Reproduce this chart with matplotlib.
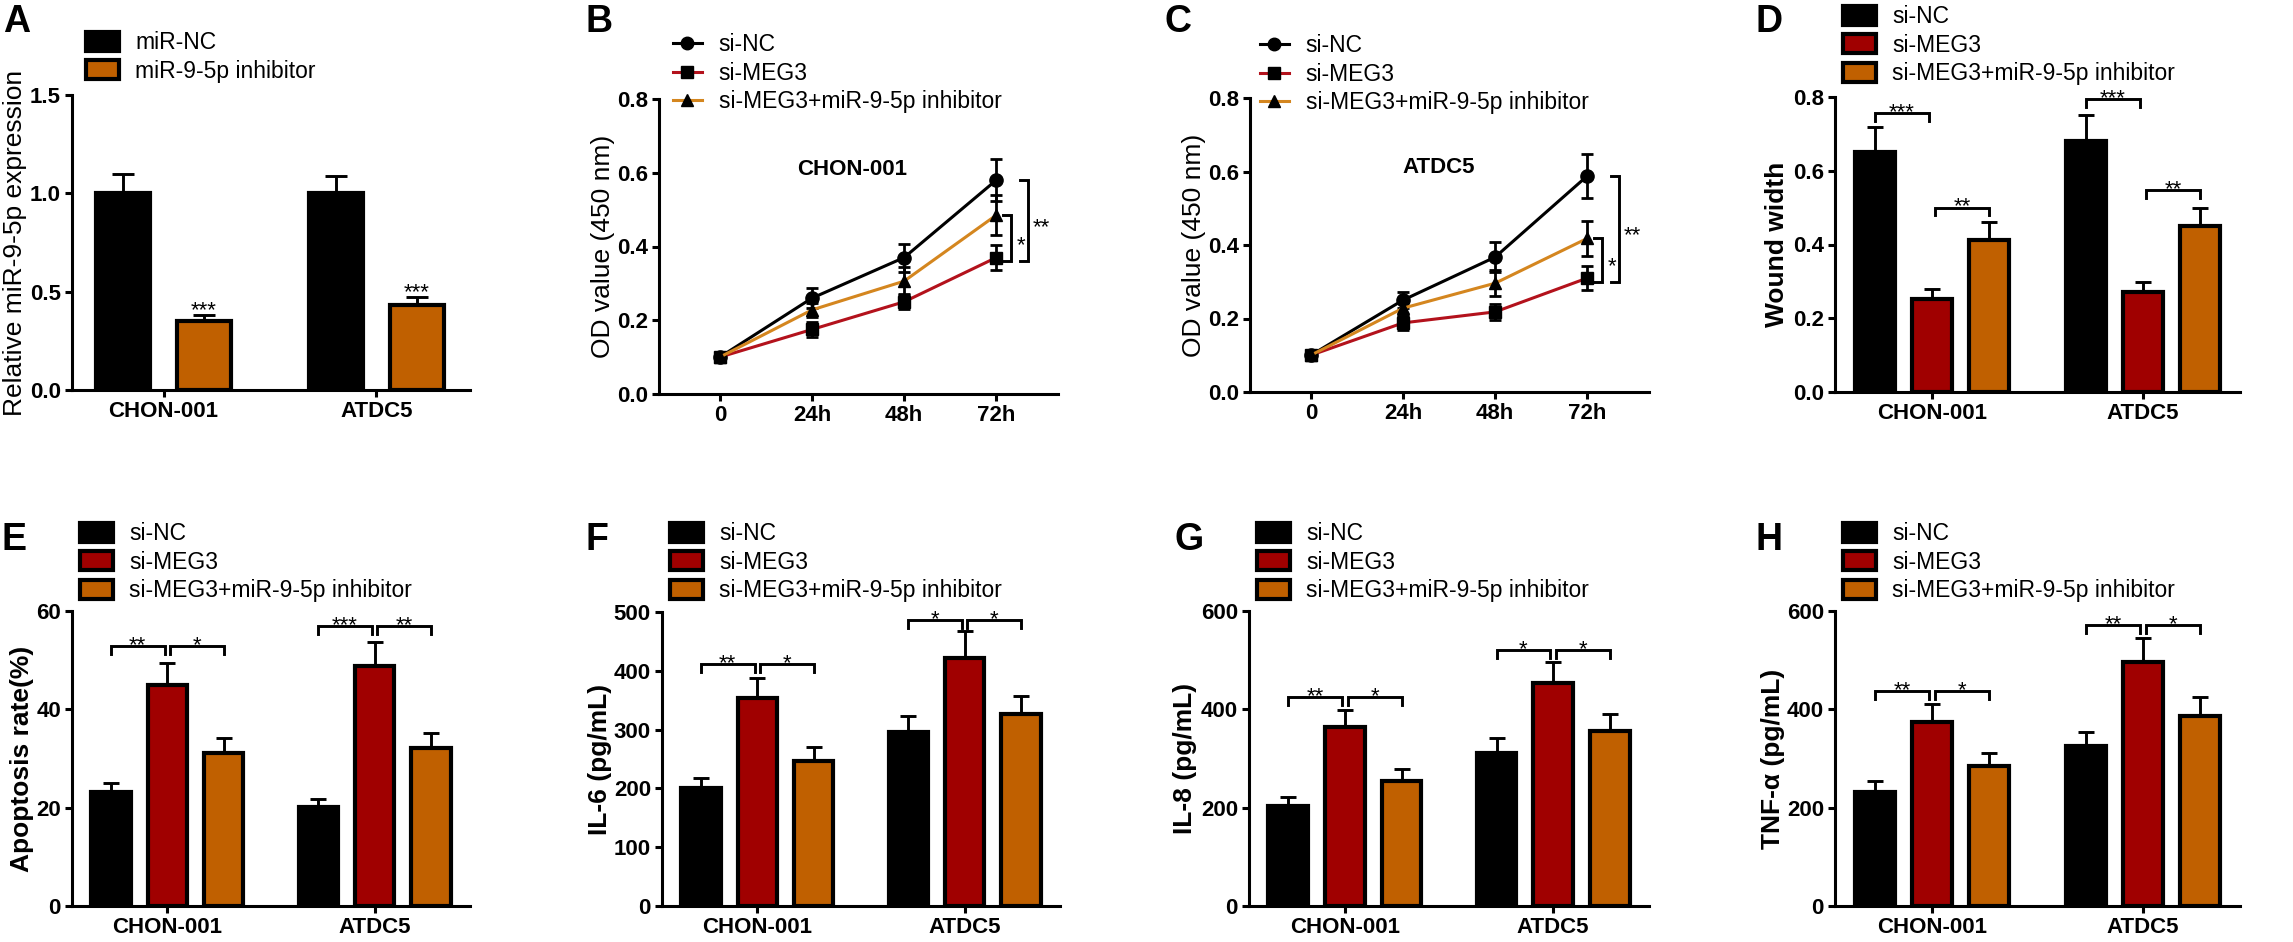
import numpy as np
import matplotlib
matplotlib.use("Agg")
import matplotlib.pyplot as plt
from matplotlib.patches import Patch
from matplotlib.lines import Line2D

W, H = 2293, 942
plt.rcParams['font.family'] = ['Liberation Sans', 'DejaVu Sans']

# ---------------- data ----------------
cells = ["CHON-001", "ATDC5"]
groups_a = ["miR-NC", "miR-9-5p inhibitor"]
groups3 = ["si-NC", "si-MEG3", "si-MEG3+miR-9-5p inhibitor"]
timepoints = ["0", "24h", "48h", "72h"]

# A: relative miR-9-5p expression
a_nc = [1.00, 1.00]
a_nc_err = [0.10, 0.09]
a_inh = [0.35, 0.43]
a_inh_err = [0.032, 0.045]
a_stars = ["***", "***"]

# B: CCK-8 CHON-001 (rows: si-NC, si-MEG3, si-MEG3+inhibitor)
b_mean = [[0.10, 0.26, 0.37, 0.58],
          [0.10, 0.175, 0.25, 0.37],
          [0.10, 0.228, 0.306, 0.485]]
b_err = [[0.005, 0.028, 0.038, 0.057],
         [0.005, 0.02, 0.02, 0.033],
         [0.005, 0.02, 0.038, 0.055]]
# C: CCK-8 ATDC5
c_mean = [[0.10, 0.25, 0.367, 0.588],
          [0.10, 0.188, 0.218, 0.31],
          [0.10, 0.228, 0.296, 0.418]]
c_err = [[0.005, 0.022, 0.04, 0.06],
         [0.005, 0.02, 0.022, 0.033],
         [0.005, 0.022, 0.036, 0.047]]

# D-H: bar panels (rows: si-NC, si-MEG3, si-MEG3+inhibitor; cols: cells)
d_mean = [[0.651, 0.681], [0.252, 0.271], [0.412, 0.450]]
d_err = [[0.068, 0.070], [0.027, 0.027], [0.049, 0.049]]
e_mean = [[23.2, 20.1], [44.9, 48.8], [31.1, 32.1]]
e_err = [[1.8, 1.7], [4.5, 4.9], [3.1, 3.1]]
f_mean = [[200, 296], [354, 422], [247, 327]]
f_err = [[17, 27], [34, 46], [24, 30]]
g_mean = [[203, 311], [364, 454], [254, 356]]
g_err = [[18, 31], [35, 43], [25, 35]]
h_mean = [[232, 325], [374, 496], [285, 386]]
h_err = [[22, 29], [37, 49], [26, 39]]

# significance brackets: (cell, bar_i, bar_j, height, label)
d_sig = [(0, 0, 1, 0.757, "***"), (0, 1, 2, 0.50, "**"),
         (1, 0, 1, 0.795, "***"), (1, 1, 2, 0.548, "**")]
e_sig = [(0, 0, 1, 52.9, "**"), (0, 1, 2, 52.9, "*"),
         (1, 0, 1, 56.9, "***"), (1, 1, 2, 56.9, "**")]
f_sig = [(0, 0, 1, 411, "**"), (0, 1, 2, 411, "*"),
         (1, 0, 1, 486, "*"), (1, 1, 2, 486, "*")]
g_sig = [(0, 0, 1, 425, "**"), (0, 1, 2, 425, "*"),
         (1, 0, 1, 521, "*"), (1, 1, 2, 521, "*")]
h_sig = [(0, 0, 1, 437, "**"), (0, 1, 2, 437, "*"),
         (1, 0, 1, 571, "**"), (1, 1, 2, 571, "*")]
# line-plot brackets at 72h: (series_i, series_j, x, label)
b_sig = [(2, 1, 3.16, "*"), (0, 1, 3.34, "**")]
c_sig = [(2, 1, 3.16, "*"), (0, 1, 3.34, "**")]

# ---------------- style ----------------
BLACK = "#000000"
RED = "#A00000"
ORANGE = "#C06000"
LINE_RED = "#B3121C"
LINE_ORANGE = "#D4861F"
TICK_FS = 16
LEG_FS = 16.5
LAB_FS = 19
STAR_FS = 16
SPINE_LW = 2.2

fig = plt.figure(figsize=(W / 100, H / 100), dpi=100)


def add_ax(l, t, r, b):
    return fig.add_axes([l / W, 1 - b / H, (r - l) / W, (b - t) / H])


def style_ax(ax, ylim, yticks, yfmt, ylabel, label_x_px, bold_label):
    for s in ["top", "right"]:
        ax.spines[s].set_visible(False)
    for s in ["left", "bottom"]:
        ax.spines[s].set_linewidth(SPINE_LW)
    ax.set_ylim(*ylim)
    ax.set_yticks(yticks, labels=[yfmt.format(v) for v in yticks],
                  fontsize=TICK_FS, fontweight="bold")
    ax.tick_params(axis="both", direction="out", length=5, width=SPINE_LW, pad=3)
    ax.set_ylabel(ylabel, fontsize=LAB_FS,
                  fontweight="bold" if bold_label else "normal", va="center")
    bb = ax.get_position()
    ax.yaxis.set_label_coords((label_x_px / W - bb.x0) / bb.width, 0.5)


def legend_bars(ax, labels, colors, left_px, top_px):
    handles = [Patch(facecolor=c, edgecolor="k", linewidth=3) for c in colors]
    ax.legend(handles, labels, loc="upper left",
              bbox_to_anchor=(left_px / W, 1 - top_px / H),
              bbox_transform=fig.transFigure, frameon=False, fontsize=LEG_FS,
              handlelength=1.45, handleheight=0.9, handletextpad=0.7,
              labelspacing=0.25, borderpad=0, borderaxespad=0)


def legend_lines(ax, left_px, top_px):
    handles = [Line2D([], [], color=col, lw=2.2, marker=m, markersize=ms,
                      markerfacecolor="k", markeredgecolor="k")
               for col, m, ms in zip([BLACK, LINE_RED, LINE_ORANGE],
                                     ["o", "s", "^"], [9, 8.5, 9])]
    ax.legend(handles, groups3, loc="upper left",
              bbox_to_anchor=(left_px / W, 1 - top_px / H),
              bbox_transform=fig.transFigure, frameon=False, fontsize=LEG_FS,
              handlelength=1.25, handletextpad=0.75,
              labelspacing=0.25, borderpad=0, borderaxespad=0)


def bracket(ax, x1, x2, y, drop, label):
    ax.plot([x1, x1, x2, x2], [y - drop, y, y, y - drop], color="k", lw=2.1,
            solid_joinstyle="miter", clip_on=False, zorder=5)
    ax.annotate(label, xy=((x1 + x2) / 2, y), xytext=(0, -3.5),
                textcoords="offset points", ha="center", va="baseline",
                fontsize=STAR_FS, annotation_clip=False)


def bar_panel(rect, means, errs, sigs, ylim, yticks, yfmt, ylabel, label_x_px,
              leg_left, leg_top, capsize=5.5):
    ax = add_ax(*rect)
    x = np.arange(len(cells))
    offsets = [-0.272, 0.0, 0.272]
    colors = [BLACK, RED, ORANGE]
    width = 0.19
    for k in range(3):
        xs = x + offsets[k]
        m = np.array(means[k], float)
        e = np.array(errs[k], float)
        ax.bar(xs, m, width, color=colors[k], edgecolor="k", linewidth=3, zorder=2)
        ax.errorbar(xs, m, yerr=[np.zeros_like(e), e], fmt="none", ecolor="k",
                    elinewidth=2.1, capsize=capsize, capthick=2.1, zorder=1)
    ax.set_xlim(-0.46, 1.46)
    ax.set_xticks(x, labels=cells, fontsize=TICK_FS, fontweight="bold")
    style_ax(ax, ylim, yticks, yfmt, ylabel, label_x_px, True)
    drop = 0.026 * (ylim[1] - ylim[0])
    for (ci, i, j, yv, lab) in sigs:
        x1 = ci + offsets[i]
        x2 = ci + offsets[j]
        if i == 1:
            x1 += 0.013
        if j == 1:
            x2 -= 0.013
        bracket(ax, x1, x2, yv, drop, lab)
    legend_bars(ax, groups3, colors, leg_left, leg_top)
    return ax


def line_panel(rect, means, errs, sigs, title, title_x, label_x_px, leg_left, leg_top):
    ax = add_ax(*rect)
    t = np.arange(len(timepoints))
    cols = [BLACK, LINE_RED, LINE_ORANGE]
    marks = ["o", "s", "^"]
    msz = [9.5, 8.5, 9]
    for k in range(3):
        ax.errorbar(t, means[k], yerr=errs[k], color=cols[k], lw=2.2,
                    marker=marks[k], markersize=msz[k], markerfacecolor="k",
                    markeredgecolor="k", ecolor="k", elinewidth=2, capsize=4.3,
                    capthick=2, zorder=3 + k)
    ax.set_xlim(-0.66, 3.67)
    ax.set_xticks(t, labels=timepoints, fontsize=TICK_FS, fontweight="bold")
    style_ax(ax, (0, 0.8), [0, 0.2, 0.4, 0.6, 0.8], "{:.1f}",
             "OD value (450 nm)", label_x_px, False)
    ax.text(title_x, 0.61, title, ha="center", va="center", fontsize=TICK_FS,
            fontweight="bold")
    arm = 0.085
    for (i, j, xb, lab) in sigs:
        y1 = means[i][-1]
        y2 = means[j][-1] - 0.01
        ax.plot([xb - arm, xb, xb, xb - arm], [y1, y1, y2, y2], color="k", lw=2.1,
                solid_joinstyle="miter", clip_on=False)
        ax.annotate(lab, xy=(xb, (y1 + y2) / 2), xytext=(4, -9),
                    textcoords="offset points", ha="left", va="baseline",
                    fontsize=STAR_FS, annotation_clip=False)
    legend_lines(ax, leg_left, leg_top)
    return ax


# ---------------- Panel A ----------------
axA = add_ax(72, 95, 470, 390)
xa = np.arange(len(cells))
axA.bar(xa - 0.19, a_nc, 0.255, color=BLACK, edgecolor="k", linewidth=3, zorder=2)
axA.bar(xa + 0.19, a_inh, 0.255, color=ORANGE, edgecolor="k", linewidth=3, zorder=2)
axA.errorbar(xa - 0.19, a_nc, yerr=[np.zeros(2), a_nc_err], fmt="none", ecolor="k",
             elinewidth=2.1, capsize=8, capthick=2.1, zorder=1)
axA.errorbar(xa + 0.19, a_inh, yerr=[np.zeros(2), a_inh_err], fmt="none", ecolor="k",
             elinewidth=2.1, capsize=8, capthick=2.1, zorder=1)
for i in range(2):
    axA.annotate(a_stars[i], xy=(xa[i] + 0.19, a_inh[i] + a_inh_err[i]),
                 xytext=(0, -1), textcoords="offset points", ha="center",
                 va="baseline", fontsize=STAR_FS)
axA.set_xlim(-0.43, 1.44)
axA.set_xticks(xa, labels=cells, fontsize=TICK_FS, fontweight="bold")
style_ax(axA, (0, 1.5), [0, 0.5, 1.0, 1.5], "{:.1f}",
         "Relative miR-9-5p expression", 15, False)
legend_bars(axA, groups_a, [BLACK, ORANGE], 86, 31)

# ---------------- Panels B, C ----------------
line_panel((659, 99, 1058, 394), b_mean, b_err, b_sig, "CHON-001", 1.44, 603, 673, 33)
line_panel((1250, 98, 1649, 392), c_mean, c_err, c_sig, "ATDC5", 1.39, 1194, 1260, 34)

# ---------------- Panels D-H ----------------
bar_panel((1835, 97, 2240, 392), d_mean, d_err, d_sig, (0, 0.8),
          [0, 0.2, 0.4, 0.6, 0.8], "{:.1f}", "Wound width", 1777, 1843, 5, capsize=6)
bar_panel((72, 611, 470, 906), e_mean, e_err, e_sig, (0, 60),
          [0, 20, 40, 60], "{:d}", "Apoptosis rate(%)", 22, 80, 522)
bar_panel((662, 612, 1060, 906), f_mean, f_err, f_sig, (0, 500),
          [0, 100, 200, 300, 400, 500], "{:d}", "IL-6 (pg/mL)", 600, 670, 522)
bar_panel((1249, 611, 1649, 906), g_mean, g_err, g_sig, (0, 600),
          [0, 200, 400, 600], "{:d}", "IL-8 (pg/mL)", 1185, 1257, 522)
bar_panel((1835, 611, 2240, 906), h_mean, h_err, h_sig, (0, 600),
          [0, 200, 400, 600], "{:d}", "TNF-\u03b1 (pg/mL)", 1773, 1843, 522)

# ---------------- panel letters ----------------
letters = [("A", 3, 32), ("B", 585, 32), ("C", 1165, 32), ("D", 1755, 32),
           ("E", 2, 550), ("F", 585, 550), ("G", 1175, 550), ("H", 1755, 550)]
for lt, lx, ly in letters:
    fig.text(lx / W, 1 - ly / H, lt, fontsize=27, fontweight="bold",
             ha="left", va="baseline")

fig.savefig("out.png", dpi=100)
